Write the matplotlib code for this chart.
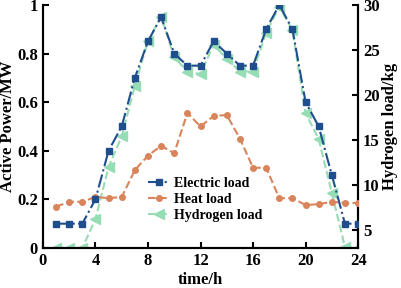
import matplotlib
matplotlib.use("Agg")
import matplotlib.pyplot as plt

hours = list(range(1, 25))
electric = [0.1, 0.1, 0.1, 0.2, 0.4, 0.5, 0.7, 0.85, 0.95, 0.8, 0.75, 0.75,
            0.85, 0.8, 0.75, 0.75, 0.9, 1.0, 0.9, 0.6, 0.5, 0.3, 0.1, 0.1]
heat = [0.17, 0.19, 0.19, 0.21, 0.205, 0.21, 0.32, 0.38, 0.42, 0.39, 0.555, 0.5,
        0.543, 0.547, 0.45, 0.33, 0.33, 0.205, 0.205, 0.177, 0.18, 0.19, 0.185, 0.185]
hydrogen = [3, 3, 3, 6.2, 12, 15.4, 21, 26, 28.7, 24.2, 22.6, 22.3,
            25.6, 24, 22.6, 22.6, 26.9, 29.8, 27.2, 18, 15.1, 9.1, 3.1, 3]

x_ticks = [0, 4, 8, 12, 16, 20, 24]
left_ticks = [0, 0.2, 0.4, 0.6, 0.8, 1]
left_labels = ["0", "0.2", "0.4", "0.6", "0.8", "1"]
right_ticks = [5, 10, 15, 20, 25, 30]

c_el = "#1f4e8c"
c_heat = "#d9845a"
c_h2 = "#96dcb4"

plt.rcParams['font.family'] = ['Liberation Serif', 'DejaVu Serif']
plt.rcParams['font.weight'] = 'bold'

fig = plt.figure(figsize=(4.01, 2.88), dpi=100)
ax = fig.add_axes([0.107, 0.139, 0.786, 0.844])
ax2 = ax.twinx()

l1, = ax.plot(hours, electric, color=c_el, linestyle='-.', marker='s', markersize=4,
              linewidth=1.5, label='Electric load', zorder=4)
l2, = ax.plot(hours, heat, color=c_heat, linestyle='--', marker='o', markersize=4,
              linewidth=1.5, label='Heat load', zorder=3)
l3, = ax2.plot(hours, hydrogen, color=c_h2, linestyle='--', marker='<', markersize=6.5,
               linewidth=1.5, label='Hydrogen load', zorder=2)
ax.set_zorder(ax2.get_zorder() + 1)
ax.patch.set_visible(False)

ax.set_xlim(0, 24)
ax.set_ylim(0, 1)
ax2.set_ylim(3, 30)
ax.set_xticks(x_ticks)
ax.set_yticks(left_ticks)
ax.set_yticklabels(left_labels)
ax2.set_yticks(right_ticks)

for a in (ax, ax2):
    a.spines['top'].set_visible(False)
    for s in a.spines.values():
        s.set_linewidth(1.5)
    a.tick_params(direction='in', width=1.5, length=4, labelsize=12)
    for lab in a.get_xticklabels() + a.get_yticklabels():
        lab.set_fontweight('bold')

ax.set_xlabel('time/h', fontsize=12, fontweight='bold', labelpad=2)
ax.set_ylabel('Active Power/MW', fontsize=12, fontweight='bold', labelpad=1)
ax2.set_ylabel('Hydrogen load/kg', fontsize=12, fontweight='bold', labelpad=2)

leg = ax.legend(handles=[l1, l2, l3], loc='lower left', bbox_to_anchor=(0.31, 0.08),
                frameon=False, prop={'size': 10, 'weight': 'bold'},
                handlelength=1.6, handletextpad=0.3, labelspacing=0.2, borderpad=0)

fig.savefig('out.png', dpi=100)
